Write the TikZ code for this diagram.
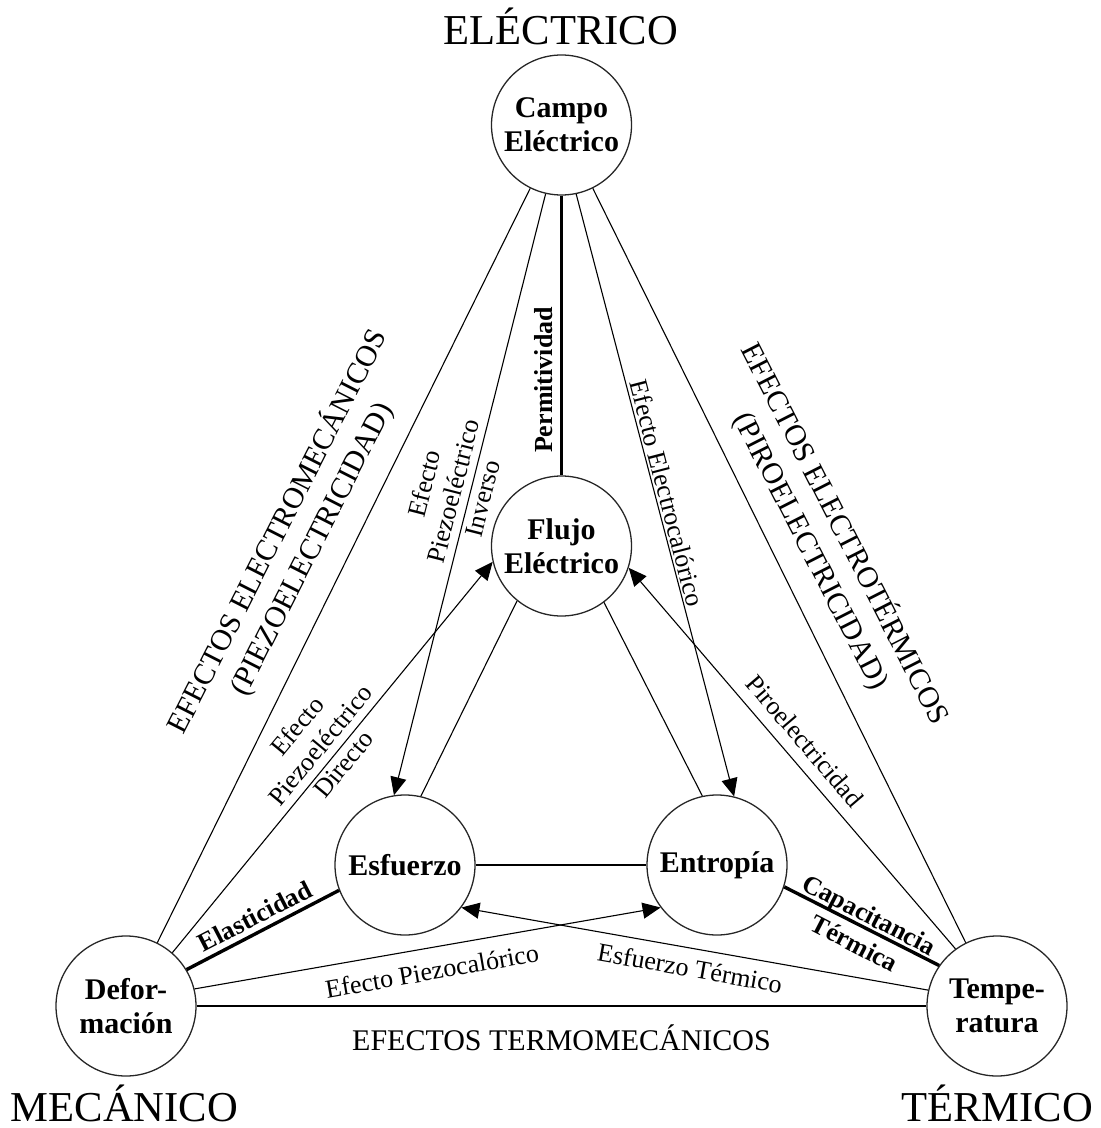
\documentclass[tikz,border=0pt]{standalone}
\usepackage{fontspec}
\setmainfont{Liberation Serif}
\usetikzlibrary{arrows.meta}
\begin{document}
\begin{tikzpicture}[x=0.5pt,y=-0.5pt,
  qty/.style={circle,draw=black!85,line width=0.65pt,minimum size=70pt,inner sep=0pt,align=center,font=\fontsize{15}{17}\selectfont\bfseries},
  conn/.style={line width=0.55pt},
  strong/.style={line width=1.7pt},
  arr/.style={conn,-{Triangle[length=9pt,width=8pt]}},
  elab/.style={inner sep=0pt,align=center,font=\fontsize{13}{15}\selectfont},
  blab/.style={inner sep=0pt,align=center,font=\fontsize{13}{16}\selectfont\bfseries},
  glab/.style={inner sep=0pt,align=center,font=\fontsize{15}{19}\selectfont},
  realm/.style={inner sep=0pt,anchor=base,font=\fontsize{21.3}{25}\selectfont}]
\useasboundingbox (0,0) rectangle (1101,1128);
% quantities
\node[qty] (campo) at (561.5,125) {Campo\\Eléctrico};
\node[qty] (flujo) at (561.5,546) {Flujo\\Eléctrico};
\node[qty] (esf) at (405,865) {Esfuerzo};
\node[qty] (ent) at (717,865) {Entropía};
\node[qty] (def) at (126,1006) {Defor-\\mación};
\node[qty] (temp) at (997,1006) {Tempe-\\ratura};
% connectors
\draw[conn] (campo) -- (def);
\draw[conn] (campo) -- (temp);
\draw[strong] (campo.south) -- (flujo.north);
\draw[arr] (campo.257.7) -- (esf.99.7);
\draw[arr] (campo.282.3) -- (ent.76.8);
\draw[arr] (def.49.6) -- (flujo.193.8);
\draw[strong] (def.31.4) -- (esf.201);
\draw[arr] (def.14.4) -- (ent.217.9);
\draw[conn] (def.east) -- (temp.west);
\draw[arr] (temp.126.9) -- (flujo.342.4);
\draw[strong] (temp.145.6) -- (ent.342);
\draw[arr] (temp.167) -- (esf.323.6);
\draw[conn] (flujo.231.2) -- (esf.77.9);
\draw[conn] (flujo.307.2) -- (ent.102.4);
\draw[conn] (esf.east) -- (ent.west);
% domain labels
\node[realm] (lblE) at (561,45) {ELÉCTRICO};
\node[realm] (lblM) at (124.5,1121) {MECÁNICO};
\node[realm] (lblT) at (997,1121) {TÉRMICO};
% group labels
\node[glab,rotate=63] (lblEM) at (294,540) {EFECTOS ELECTROMECÁNICOS\\(PIEZOELECTRICIDAD)};
\node[glab,rotate=-63] (lblETE) at (828.5,542) {EFECTOS ELECTROTÉRMICOS\\(PIROELECTRICIDAD)};
\node[glab,anchor=base] (lblTM) at (561.5,1050) {EFECTOS TERMOMECÁNICOS};
% edge labels
\node[elab,rotate=75.7] (lblInv) at (453,491) {Efecto\\Piezoeléctrico\\Inverso};
\node[elab,rotate=50.5] (lblDir) at (320,745) {Efecto\\Piezoeléctrico\\Directo};
\node[blab,rotate=90] (lblPerm) at (544,380) {Permitividad};
\node[elab,rotate=-75.5] (lblEC) at (667,493) {Efecto Electrocalórico};
\node[elab,rotate=-49.5] (lblPiro) at (805,741) {Piroelectricidad};
\node[elab,rotate=9.8] (lblPC) at (432,971) {Efecto Piezocalórico};
\node[elab,rotate=-10.1] (lblST) at (690,968) {Esfuerzo Térmico};
\node[blab,rotate=27.3] (lblEla) at (255,916) {Elasticidad};
\node[blab,rotate=-27.3] (lblCap) at (862,929) {Capacitancia\\Térmica};
\end{tikzpicture}
\end{document}
